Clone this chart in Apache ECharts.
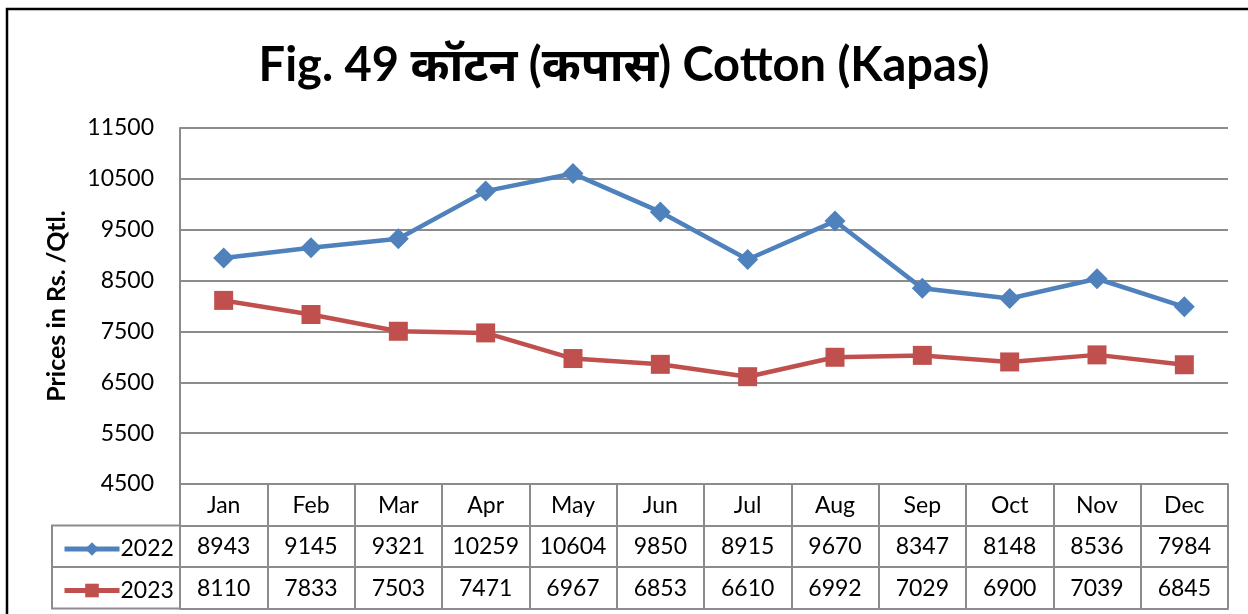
<!DOCTYPE html>
<html>
<head>
<meta charset="utf-8">
<script src="https://cdn.jsdelivr.net/npm/echarts@6/dist/echarts.min.js"></script>
<style>
  html, body { margin: 0; padding: 0; background: #fff; }
  #chart { width: 1248px; height: 614px; }
</style>
</head>
<body>
<div id="chart"></div>
<script>
// Monthly cotton (kapas) prices, Rs./Qtl.
const months = ['Jan', 'Feb', 'Mar', 'Apr', 'May', 'Jun', 'Jul', 'Aug', 'Sep', 'Oct', 'Nov', 'Dec'];
const prices2022 = [8943, 9145, 9321, 10259, 10604, 9850, 8915, 9670, 8347, 8148, 8536, 7984];
const prices2023 = [8110, 7833, 7503, 7471, 6967, 6853, 6610, 6992, 7029, 6900, 7039, 6845];
const seriesNames = ['2022', '2023'];
const yMin = 4500, yMax = 11500, yStep = 500, yLabelStep = 1000;

// Layout
const FONT = 'Lato, "Noto Sans", "Liberation Sans", sans-serif';
const GRID = { left: 180, top: 128, width: 1048, height: 356 };
const ROW_H = 41.5;
const TABLE_LEFT = 52;
const LINE_GRAY = '#8c8c8c';
const BLUE = '#4f81bd', RED = '#c0504d';

const chart = echarts.init(document.getElementById('chart'), null, { renderer: 'canvas' });

const gridBottom = GRID.top + GRID.height;

// Row axes: months, then one row of values per series, then the closing line
function rowAxis(data, offset, withTicks, withLabels) {
  return {
    type: 'category',
    gridIndex: 0,
    position: 'bottom',
    offset: offset,
    data: data,
    boundaryGap: true,
    axisLine: { show: true, lineStyle: { color: LINE_GRAY, width: 2 } },
    axisTick: { show: withTicks, length: ROW_H, interval: 0, lineStyle: { color: LINE_GRAY, width: 2 } },
    axisLabel: { show: withLabels, interval: 0, margin: 10, color: '#000', fontSize: 23, fontFamily: FONT },
    splitLine: { show: false }
  };
}

const option = {
  animation: false,
  backgroundColor: '#fff',
  title: {
    text: 'Fig. 49 कॉटन (कपास) Cotton (Kapas)',
    left: 'center',
    top: 37,
    textStyle: { fontSize: 47, fontWeight: 'bold', color: '#000', fontFamily: FONT }
  },
  grid: { left: GRID.left, top: GRID.top, width: GRID.width, height: GRID.height, containLabel: false },
  legend: {
    orient: 'vertical',
    left: 57,
    top: gridBottom + ROW_H + 7,
    itemWidth: 55,
    itemHeight: 17,
    itemGap: ROW_H - 23,
    data: seriesNames,
    lineStyle: { width: 5 },
    textStyle: { fontSize: 23, color: '#000', fontFamily: FONT, padding: [0, 0, 0, -4] }
  },
  xAxis: [
    rowAxis(months, 0, true, true),
    rowAxis(prices2022.map(String), ROW_H, true, true),
    rowAxis(prices2023.map(String), ROW_H * 2, true, true),
    rowAxis([], ROW_H * 3, false, false)
  ],
  yAxis: {
    type: 'value',
    min: yMin,
    max: yMax,
    interval: yStep,
    name: 'Prices in Rs. /Qtl.',
    nameLocation: 'middle',
    nameGap: 111,
    nameRotate: 90,
    nameTextStyle: { fontSize: 25, fontWeight: 'bold', color: '#000', fontFamily: FONT },
    axisLine: { show: true, lineStyle: { color: LINE_GRAY, width: 2 } },
    axisTick: { show: false },
    axisLabel: {
      color: '#000', fontSize: 23, fontFamily: FONT, margin: 26,
      formatter: v => ((v - yMin) % yLabelStep === 0 ? String(v) : '')
    },
    // every other split line is hidden so grid lines fall on the labelled values
    splitLine: { show: true, lineStyle: { color: [LINE_GRAY, 'rgba(0,0,0,0)'], width: 2 } }
  },
  series: [
    {
      name: seriesNames[0], type: 'line', xAxisIndex: 0, data: prices2022,
      symbol: 'diamond', symbolSize: 21,
      lineStyle: { color: BLUE, width: 4.5 }, itemStyle: { color: BLUE }
    },
    {
      name: seriesNames[1], type: 'line', xAxisIndex: 0, data: prices2023,
      symbol: 'rect', symbolSize: 19,
      lineStyle: { color: RED, width: 4.5 }, itemStyle: { color: RED }
    }
  ],
  graphic: [
    // outer frame
    { type: 'rect', shape: { x: 7, y: 9, width: 1300, height: 700 }, style: { fill: null, stroke: '#000', lineWidth: 2.5 }, silent: true },
    // legend cells on the left of the value rows
    { type: 'rect', shape: { x: TABLE_LEFT, y: gridBottom + ROW_H, width: GRID.left - TABLE_LEFT, height: ROW_H * 2 },
      style: { fill: null, stroke: LINE_GRAY, lineWidth: 2 }, silent: true },
    { type: 'line', shape: { x1: TABLE_LEFT, y1: gridBottom + ROW_H * 2, x2: GRID.left, y2: gridBottom + ROW_H * 2 },
      style: { stroke: LINE_GRAY, lineWidth: 2 }, silent: true }
  ]
};

chart.setOption(option);
</script>
</body>
</html>
